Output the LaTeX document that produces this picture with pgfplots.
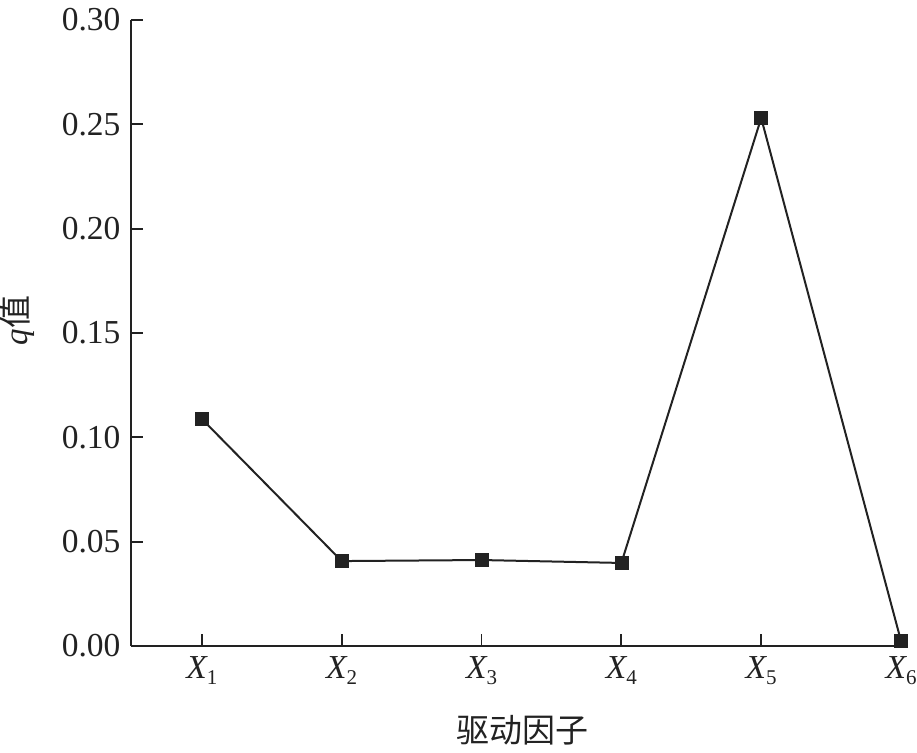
\documentclass[border=0pt]{standalone}
\usepackage{pgfplots}
\pgfplotsset{compat=1.18}
\usepackage{fontspec}
\setmainfont{Liberation Serif}
\newfontfamily\cjk{Noto Sans CJK SC}
\definecolor{ink}{HTML}{222222}
\newcommand{\xs}[1]{\textit{X}\kern-1pt\raisebox{-6pt}{\fontsize{21}{21}\selectfont #1}}
\begin{document}
\begin{tikzpicture}
\useasboundingbox (-131pt,-106pt) rectangle (786pt,646pt);
\begin{axis}[
  scale only axis,
  width=777pt, height=626pt,
  xmin=0.493, xmax=6.05,
  ymin=0, ymax=0.30,
  axis lines=left,
  axis line style={-, line width=1.8pt, ink},
  tick align=inside,
  major tick length=12pt,
  tick style={line width=1.8pt, ink},
  xtick={1,2,3,4,5,6},
  xticklabels={\xs{1},\xs{2},\xs{3},\xs{4},\xs{5},\xs{6}},
  ytick={0,0.05,0.10,0.15,0.20,0.25,0.30},
  yticklabel style={/pgf/number format/fixed, /pgf/number format/fixed zerofill, /pgf/number format/precision=2, /pgf/number format/assume math mode=true, xshift=-7pt},
  ticklabel style={font=\fontsize{33.5}{40}\selectfont, text=ink},
  xticklabel style={yshift=-7pt},
  xlabel={\cjk 驱动因子},
  ylabel={\textit{q}\cjk 值},
  label style={font=\fontsize{33}{40}\selectfont, text=ink},
  xlabel style={at={(axis description cs:0.504,-0.135)}, anchor=center},
  ylabel style={at={(axis description cs:-0.146,0.52)}, anchor=center},
  clip=false,
]
\addplot[ink, line width=2pt, mark=square*, mark size=6.5pt, mark options={fill=ink, draw=ink, line width=0.5pt}]
  coordinates {(1,0.1088) (2,0.0407) (3,0.0412) (4,0.0398) (5,0.2530) (6,0.0024)};
\end{axis}
\end{tikzpicture}
\end{document}
